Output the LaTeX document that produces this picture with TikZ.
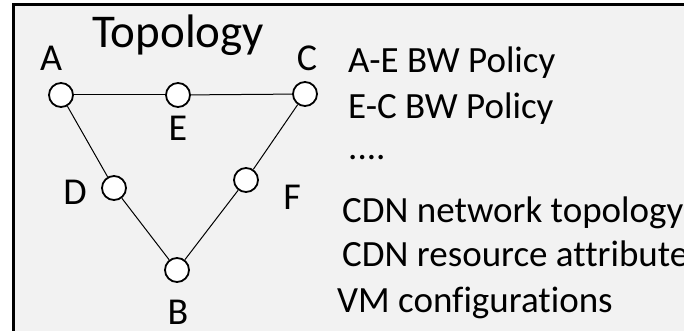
\documentclass[tikz,border=0pt]{standalone}
\usepackage{fontspec}
\setmainfont{Carlito}[Ligatures=NoCommon]
\usetikzlibrary{positioning}
\tikzset{
    site/.style={
           circle,
           draw=black, line width=1.8pt,
           fill=white,
           minimum size=24pt,
           inner sep=0pt,
           },
    tag/.style={
           inner sep=0pt,
           font=\fontsize{38}{42}\selectfont,
           },
    info/.style={
           anchor=base west,
           inner sep=0pt,
           font=\fontsize{37}{42}\selectfont,
           },
}
\begin{document}
\begin{tikzpicture}[x=1pt,y=-1pt]
  \useasboundingbox (0,0) rectangle (684,331);
  \clip (0,0) rectangle (684,331);
  \fill[white] (0,0) rectangle (684,331);
  \draw[fill={rgb,255:red,242;green,242;blue,242}, line width=3pt]
    (13,5) rectangle (720,360);
  \node[anchor=base west, inner sep=0pt,
    font=\fontsize{47}{52}\selectfont] (title) at (92,48) {Topology};
  % sites
  \node[site] (A) at (61,95) {};
  \node[site] (E) at (178,95) {};
  \node[site] (C) at (305,94) {};
  \node[site] (D) at (114,188) {};
  \node[site] (F) at (246,180) {};
  \node[site] (B) at (177,270) {};
  \path[draw=black, line width=1pt]
  (A) edge (E)
  (E) edge (C)
  (A) edge (D)
  (D) edge (B)
  (B) edge (F)
  (F) edge (C)
  ;
  % site names
  \node[tag] (Aname) at (51,58) {A};
  \node[tag] (Cname) at (307,58) {C};
  \node[tag] (Ename) at (178,128) {E};
  \node[tag] (Dname) at (75,192) {D};
  \node[tag] (Fname) at (292,197) {F};
  \node[tag, anchor=base, text depth=0pt] (Bname) at (178,324) {B};
  % policies
  \node[info] (AEbw) at (348,73) {A-E BW Policy};
  \node[info] (ECbw) at (348,119) {E-C BW Policy};
  \node[info] (more) at (348,160) {....};
  \node[info] (topo) at (342,222) {CDN network topology};
  \node[info] (attr) at (342,266) {CDN resource attribute};
  \node[info] (vmcfg) at (337,312) {VM configurations};
\end{tikzpicture}
\end{document}
